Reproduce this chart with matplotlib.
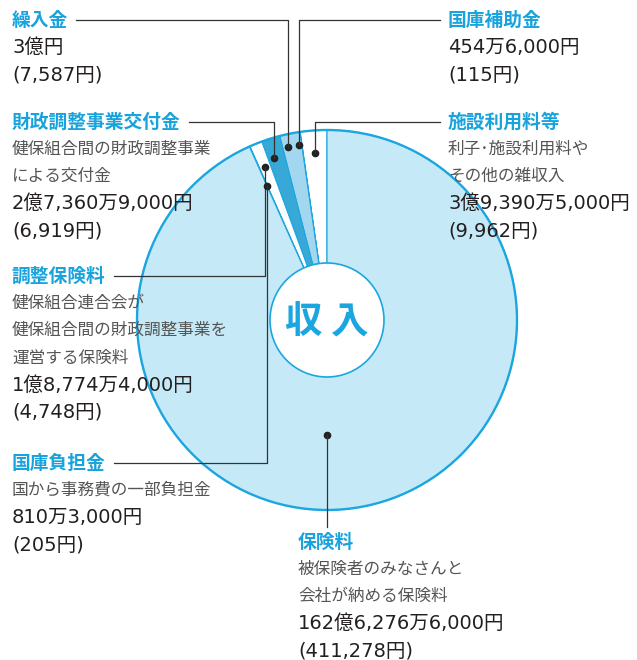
import matplotlib
matplotlib.use("Agg")
import matplotlib.pyplot as plt
from matplotlib.patches import Circle
import numpy as np

plt.rcParams['font.family'] = ['Noto Sans CJK JP', 'DejaVu Sans']

W, H = 637, 660

# ---- data ----
categories = ["施設利用料等", "国庫補助金", "繰入金", "財政調整事業交付金",
              "調整保険料", "国庫負担金", "保険料"]
values = [393905000, 4546000, 300000000, 273609000, 187744000, 8103000, 16262766000]
descriptions = [
    ["利子･施設利用料や", "その他の雑収入"],
    [],
    [],
    ["健保組合間の財政調整事業", "による交付金"],
    ["健保組合連合会が", "健保組合間の財政調整事業を", "運営する保険料"],
    ["国から事務費の一部負担金"],
    ["被保険者のみなさんと", "会社が納める保険料"],
]
amount_labels = ["3億9,390万5,000円", "454万6,000円", "3億円", "2億7,360万9,000円",
                 "1億8,774万4,000円", "810万3,000円", "162億6,276万6,000円"]
per_person = ["(9,962円)", "(115円)", "(7,587円)", "(6,919円)",
              "(4,748円)", "(205円)", "(411,278円)"]
center_label = "収 入"

# ---- style ----
BLUE = "#1ba6e0"
TITLE = "#19a3dd"
NUM_FONT = ["DejaVu Sans", "Noto Sans CJK JP"]
slice_colors = ["#ffffff", "#a3d7f0", "#a3d7f0", "#38a8d6", "#ffffff", "#1ba6e0", "#c6e9f8"]
# label anchor (left x, title center y) in pixel coords from top
label_pos = [(448, 122), (448, 20), (12, 20), (12, 122), (12, 276), (12, 463), (298, 542)]
side = ["right", "right", "left", "left", "left", "left", "below"]
dot_radius = [167, 177, 177, 170, 165, 147, 115]
dot_angle_shift = [0, 1.0, 1.4, 0.8, 0, 0, 0]
dot_angle_override = [None, None, None, None, None, None, 270]
LINE_STEP = 27.3

fig = plt.figure(figsize=(W / 100, H / 100), dpi=100)
ax = fig.add_axes([0, 0, 1, 1])

cx, cy = 327, H - 320
R = 190
wedges, _ = ax.pie(values, startangle=90, counterclock=True, radius=R, center=(cx, cy),
                   colors=slice_colors,
                   wedgeprops=dict(edgecolor=BLUE, linewidth=0.8))
ax.add_patch(Circle((cx, cy), R, fill=False, edgecolor=BLUE, linewidth=1.7, zorder=3))
ax.add_patch(Circle((cx, cy), 57, facecolor="white", edgecolor=BLUE, linewidth=1.2, zorder=4))
ax.text(cx, cy - 2, center_label, ha="center", va="center", fontsize=27,
        fontweight="bold", color=BLUE, zorder=5)

ax.set_xlim(0, W)
ax.set_ylim(0, H)
ax.set_aspect("equal")
ax.axis("off")

title_texts = []
for i, cat in enumerate(categories):
    x, ytop = label_pos[i]
    y = H - ytop
    t = ax.text(x, y, cat, ha="left", va="center", fontsize=13.5, fontweight="bold",
                color=TITLE, zorder=6)
    title_texts.append(t)
    k = 1
    for d in descriptions[i]:
        ax.text(x, y - k * LINE_STEP, d, ha="left", va="center", fontsize=12,
                color="#555555", zorder=6)
        k += 1
    ax.text(x, y - k * LINE_STEP, amount_labels[i], ha="left", va="center", fontsize=14,
            color="#231f20", family=NUM_FONT, zorder=6)
    k += 1
    ax.text(x, y - k * LINE_STEP, per_person[i], ha="left", va="center", fontsize=14,
            color="#231f20", family=NUM_FONT, zorder=6)

fig.canvas.draw()
renderer = fig.canvas.get_renderer()
inv = ax.transData.inverted()

for i, w in enumerate(wedges):
    ang = dot_angle_override[i]
    if ang is None:
        ang = (w.theta1 + w.theta2) / 2 + dot_angle_shift[i]
    a = np.deg2rad(ang)
    dx = cx + dot_radius[i] * np.cos(a)
    dy = cy + dot_radius[i] * np.sin(a)
    ax.plot([dx], [dy], "o", color="#222222", markersize=4.5, zorder=7)
    x, ytop = label_pos[i]
    ly = H - ytop
    bb = title_texts[i].get_window_extent(renderer)
    (bx0, by0), (bx1, by1) = inv.transform([[bb.x0, bb.y0], [bb.x1, bb.y1]])
    if side[i] == "left":
        ax.plot([bx1 + 8, dx, dx], [ly, ly, dy], color="#333333", lw=0.9, zorder=7)
    elif side[i] == "right":
        ax.plot([bx0 - 8, dx, dx], [ly, ly, dy], color="#333333", lw=0.9, zorder=7)
    else:
        ax.plot([dx, dx], [dy, by1 + 6], color="#333333", lw=0.9, zorder=7)

fig.savefig("out.png", dpi=100)
